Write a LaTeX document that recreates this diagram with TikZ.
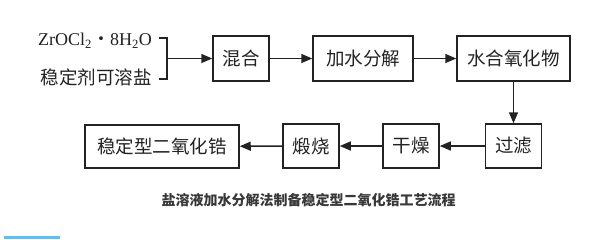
\documentclass[tikz,border=0pt]{standalone}
\usepackage{fontspec}
\setmainfont{Liberation Serif}
\newfontfamily\cjk{Noto Sans CJK SC}
\usetikzlibrary{arrows.meta}
\definecolor{ink}{HTML}{222222}
\definecolor{barblue}{HTML}{5BC0F8}
\begin{document}
\begin{tikzpicture}[x=1pt,y=-1pt,
  stepbox/.style={draw=ink,line width=1.5pt,minimum height=45pt,inner sep=0pt,font=\cjk\fontsize{18.5}{18.5}\selectfont,text=ink},
  flow/.style={draw=ink,line width=1.5pt,-{Triangle[length=11pt,width=9pt]}},
  brk/.style={draw=ink,line width=1.5pt}]
\useasboundingbox (0,0) rectangle (615,239);
\fill[white] (0,0) rectangle (615,239);
% top row
\node[stepbox,minimum width=56pt] (mix) at (241,58.5) {混合};
\node[stepbox,minimum width=100pt] (hyd) at (363,58.5) {加水分解};
\node[stepbox,minimum width=113pt] (oxi) at (513.5,58.5) {水合氧化物};
% bottom row
\node[stepbox,minimum width=56pt,minimum height=44pt] (fil) at (513.5,146) {过滤};
\node[stepbox,minimum width=56pt,minimum height=44pt] (dry) at (411,146) {干燥};
\node[stepbox,minimum width=56pt,minimum height=44pt] (cal) at (311,146) {煅烧};
\node[stepbox,minimum width=154pt,minimum height=43pt] (prod) at (162,146.5) {稳定型二氧化锆};
% inputs
\node[anchor=east,inner sep=0pt,font=\fontsize{18}{18}\selectfont,text=ink] (zr) at (152,41) {ZrOCl\textsubscript{2}{\cjk ・}8H\textsubscript{2}O};
\node[anchor=east,inner sep=0pt,font=\cjk\fontsize{18.5}{18.5}\selectfont,text=ink] (stab) at (152,77) {稳定剂可溶盐};
\coordinate (bt) at (167,38);
\coordinate (bb) at (167,79);
\coordinate (bm) at (167,58.5);
\draw[brk] (159,38) -- (bt) -- (bb) -- (159,79);
\draw[flow] (bm) -- (mix.west);
\draw[flow] (mix) -- (hyd);
\draw[flow] (hyd) -- (oxi);
\draw[flow] (oxi) -- (fil);
\draw[flow] (fil) -- (dry);
\draw[flow] (dry) -- (cal);
\draw[flow] (cal) -- (prod);
% caption
\node[font=\cjk\bfseries\fontsize{14}{14}\selectfont,text=ink!90] (cap) at (308.5,200) {盐溶液加水分解法制备稳定型二氧化锆工艺流程};
\fill[barblue] (4,236) rectangle (60,239);
\end{tikzpicture}
\end{document}
